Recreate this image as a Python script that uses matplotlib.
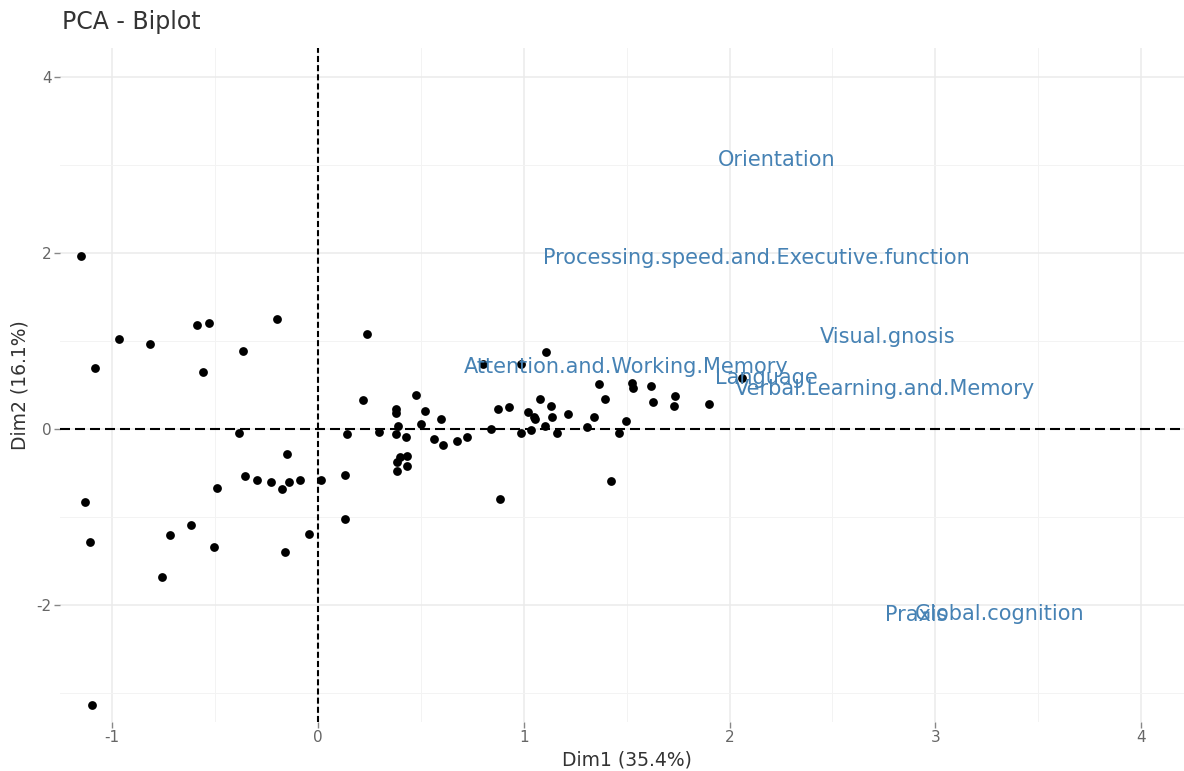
import matplotlib
matplotlib.use("Agg")
import matplotlib.pyplot as plt
from matplotlib.ticker import MultipleLocator, FuncFormatter

# Individuals (PCA scores)
dim1 = [-1.153, -1.084, -0.969, -0.816, -0.588, -0.530, -0.557, -0.366, -0.199, -0.384,
        -0.152, -0.355, -0.296, -0.230, -0.176, -0.139, -0.087, 0.013, 0.133, -0.492,
        -1.131, 0.133, -0.617, -1.108, -1.098, -0.757, -0.717, -0.504, -0.160, -0.042,
        0.236, 0.217, 0.139, 0.298, 0.377, 0.377, 0.390, 0.377, 0.426, 0.476,
        0.521, 0.499, 0.599, 0.564, 0.609, 0.674, 0.382, 0.398, 0.434, 0.431,
        0.382, 0.722, 0.839, 0.873, 0.928, 0.985, 1.022, 1.050, 1.056, 1.037,
        1.077, 1.105, 1.132, 1.137, 1.160, 1.213, 1.309, 1.343, 1.365, 1.395,
        1.461, 1.498, 1.526, 1.532, 1.620, 1.626, 1.736, 1.730, 1.900, 2.060,
        1.424, 0.886, 1.106, 0.804, 0.986]
dim2 = [1.966, 0.690, 1.020, 0.970, 1.180, 1.210, 0.644, 0.886, 1.250, -0.050,
        -0.284, -0.530, -0.580, -0.606, -0.686, -0.606, -0.580, -0.580, -0.523, -0.670,
        -0.830, -1.020, -1.095, -1.280, -3.136, -1.680, -1.205, -1.345, -1.400, -1.197,
        1.080, 0.326, -0.057, -0.030, 0.223, 0.178, 0.034, -0.060, -0.090, 0.383,
        0.210, 0.057, 0.114, -0.114, -0.180, -0.133, -0.371, -0.315, -0.303, -0.417,
        -0.474, -0.095, 0.000, 0.223, 0.254, -0.050, 0.197, 0.133, 0.115, -0.011,
        0.341, 0.038, 0.261, 0.136, -0.040, 0.167, 0.019, 0.136, 0.515, 0.345,
        -0.042, 0.094, 0.523, 0.470, 0.489, 0.303, 0.379, 0.261, 0.281, 0.576,
        -0.590, -0.800, 0.871, 0.735, 0.735]

# Variables (label positions)
var_names = ["Orientation", "Processing.speed.and.Executive.function", "Visual.gnosis",
             "Attention.and.Working.Memory", "Language", "Verbal.Learning.and.Memory",
             "Praxis", "Global.cognition"]
var_x = [2.23, 2.128, 2.77, 1.497, 2.177, 2.755, 2.906, 3.314]
var_y = [3.06, 1.943, 1.045, 0.705, 0.58, 0.455, -2.11, -2.10]

fig = plt.figure(figsize=(11.84, 7.71), dpi=100)
ax = fig.add_axes([60/1184, 49/771, 1124/1184, 674/771])

ax.set_xlim(-1.2536, 4.208)
ax.set_ylim(-3.33, 4.33)

ax.xaxis.set_major_locator(MultipleLocator(1))
ax.yaxis.set_major_locator(MultipleLocator(2))
ax.xaxis.set_minor_locator(MultipleLocator(0.5))
ax.yaxis.set_minor_locator(MultipleLocator(1))
fmt = FuncFormatter(lambda v, p: "%d" % round(v))
ax.xaxis.set_major_formatter(fmt)
ax.yaxis.set_major_formatter(fmt)
ax.grid(which="major", color="#EBEBEB", linewidth=1.1)
ax.grid(which="minor", color="#F3F3F3", linewidth=0.7)
ax.set_axisbelow(True)
for s in ax.spines.values():
    s.set_visible(False)

ax.tick_params(which="major", length=4, width=1, color="#888888", labelcolor="#666666",
               labelsize=11, pad=2)
ax.tick_params(which="minor", length=0)

ax.axhline(0, color="black", linestyle=(0, (4.8, 2.4)), linewidth=1.5, zorder=1)
ax.axvline(0, color="black", linestyle=(0, (2.9, 1.5)), linewidth=1.5, zorder=1)

ax.scatter(dim1, dim2, s=40, color="black", zorder=3, linewidths=0)

for name, x, y in zip(var_names, var_x, var_y):
    ax.text(x, y, name, color="#4682B4", fontsize=15, ha="center", va="center", zorder=4)

ax.set_xlabel("Dim1 (35.4%)", fontsize=13.5, color="#333333")
ax.set_ylabel("Dim2 (16.1%)", fontsize=13.5, color="#333333")
ax.xaxis.set_label_coords(258/1124, -38/674)
ax.xaxis.label.set_verticalalignment("center")
ax.xaxis.set_label_coords(0.5 + (627 - 622) / 1124, -38/674)
ax.yaxis.set_label_coords(-40/1124, (722 - 385) / 674)
ax.yaxis.label.set_verticalalignment("center")
fig.text(62/1184, 1 - 22/771, "PCA - Biplot", fontsize=17, color="#333333", ha="left", va="center")

fig.savefig("out.png", dpi=100, facecolor="white")
